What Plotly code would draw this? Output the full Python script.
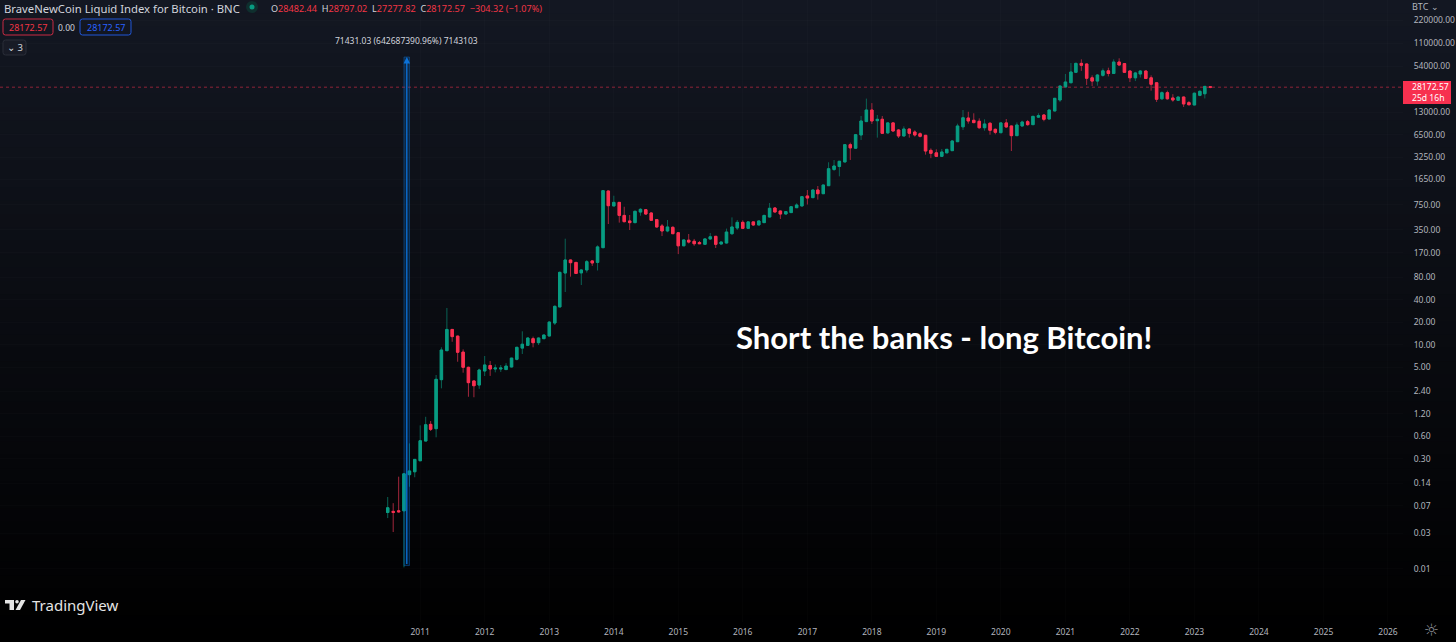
#!/usr/bin/env python3
"""BNC Bitcoin liquid index, monthly candles on a log scale, TradingView look."""
import math

import pandas as pd
import plotly.graph_objects as go

W, H = 1456, 642
PLOT_R, PLOT_B = 1403, 622

UP = "#089c82"
DOWN = "#fb2f50"
UP_WICK = "#0a6355"
DOWN_WICK = "#a3263c"
INK = "#d1d4dc"
AXIS_INK = "#b2b5be"
BLUE = "#0b72d9"
FONT = "Noto Sans"

# monthly bars from 2010-07
opens = [
    0.057, 0.059, 0.060, 0.060, 0.183, 0.200,
    0.281, 0.516, 0.863, 0.755, 3.42, 8.36, 16.1, 13.1, 8.0, 5.01, 3.29, 2.90,
    4.47, 5.3, 4.75, 4.75, 4.67, 5.06, 6.4, 9.05, 9.85, 12.1, 10.7, 12.1,
    13.15, 19.6, 32.2, 91.6, 137, 127, 92, 100.6, 133, 127, 200, 1148,
    724, 809, 541, 456, 433, 600, 645, 583, 475, 391, 335, 375,
    317, 212, 252, 244, 234, 222, 262, 284, 224, 231, 308, 367,
    437, 363, 443, 403, 433, 515, 680, 620, 565, 590, 686, 724,
    985, 935, 1184, 1056, 1352, 2230, 2440, 2810, 4790, 4290, 6455, 9750,
    13950, 10030, 10470, 6880, 9370, 7530, 6260, 7760, 7080, 6700, 6390, 4020,
    3720, 3340, 3720, 3980, 5250, 8300, 10890, 10150, 9850, 8070, 9250, 7690,
    6920, 9370, 8520, 6320, 8520, 9730, 8870, 11180, 11950, 10570, 13530, 18980,
    28330, 32300, 44500, 58700, 57600, 37600, 34000, 40600, 46600, 43000, 61200, 58300,
    46400, 37600, 42300, 46400, 37600, 32300, 19700, 23800, 20200, 18800, 20800, 17500,
    16270, 21900, 23000, 28482.44,
]
highs = [
    0.092, 0.076, 0.172, 0.188, 0.480, 0.293,
    0.837, 1.09, 0.956, 3.95, 9.28, 31.2, 16.3, 13.3, 8.7, 5.1, 3.3, 4.8,
    7.10, 6.08, 5.46, 5.38, 5.7, 6.7, 9.4, 15.2, 12.6, 12.9, 12.6, 13.7,
    20.7, 33.8, 96, 264, 138, 129, 103, 137, 137, 215, 1184, 1160,
    993, 815, 707, 548, 626, 674, 658, 595, 484, 415, 470, 386,
    320, 259, 305, 262, 246, 266, 314, 287, 244, 360, 509, 470,
    465, 452, 445, 465, 553, 793, 700, 626, 620, 724, 786, 985,
    1184, 1207, 1340, 1393, 2783, 2986, 2900, 4860, 5100, 6660, 11590, 19800,
    17250, 11950, 11590, 9640, 9640, 7760, 8430, 7860, 7460, 7000, 6455, 4270,
    4150, 4190, 4190, 5533, 9140, 13950, 13200, 12600, 10780, 10470, 9640, 7860,
    9640, 10570, 8600, 9520, 10030, 10250, 11590, 12600, 12320, 14080, 20200, 29230,
    42300, 59400, 60000, 66500, 58300, 40600, 42300, 50200, 51400, 66500, 68600, 58700,
    46900, 45200, 47860, 46900, 40600, 32600, 24800, 25300, 22700, 21200, 21000, 18400,
    23900, 25600, 29230, 28797.02,
]
lows = [
    0.048, 0.0312, 0.0566, 0.0105, 0.126, 0.169,
    0.281, 0.516, 0.703, 0.579, 2.62, 8.3, 11.0, 5.95, 4.24, 2.02, 1.99, 2.58,
    3.83, 3.84, 4.29, 4.34, 4.61, 5.0, 6.2, 7.55, 9.75, 9.28, 9.96, 12.0,
    13.0, 18.45, 32, 51, 81.9, 89, 63.3, 92.8, 114, 99, 198, 415,
    720, 433, 437, 345, 425, 536, 553, 456, 370, 287, 322, 305,
    164, 210, 228, 212, 224, 222, 254, 198, 222, 228, 296, 345,
    355, 359, 391, 399, 429, 510, 597, 484, 560, 583, 680, 715,
    757, 925, 880, 1045, 1340, 2127, 1805, 2790, 2986, 4240, 5533, 9750,
    9060, 5950, 6660, 6660, 7140, 5880, 6200, 5950, 6150, 5990, 3520, 3160,
    3270, 3270, 3700, 3940, 5200, 7530, 9140, 9280, 7830, 7360, 6510, 6590,
    6860, 8070, 3940, 6260, 8350, 8600, 8785, 10890, 9850, 10470, 13400, 17850,
    28000, 32100, 44000, 46600, 30140, 29200, 29500, 38900, 39300, 42500, 54600, 44000,
    33000, 34000, 38000, 36400, 25300, 17850, 18980, 19200, 18000, 18400, 15300, 16100,
    16200, 21300, 19900, 27277.82,
]
closes = [
    0.066, 0.0572, 0.0584, 0.188, 0.205, 0.293,
    0.521, 0.853, 0.74, 3.46, 8.54, 16.1, 12.9, 7.96, 5.01, 3.12, 2.84, 4.61,
    5.38, 4.75, 4.9, 4.9, 5.2, 6.65, 9.28, 10.2, 12.35, 10.7, 12.35, 13.55,
    20.2, 32.8, 93.5, 137, 126, 90.5, 100.6, 130, 125, 205, 1160, 730,
    809, 541, 446, 433, 614, 653, 565, 465, 379, 335, 379, 308,
    212, 254, 238, 226, 226, 262, 280, 222, 238, 324, 379, 437,
    363, 443, 403, 456, 541, 674, 601, 565, 608, 707, 746, 963,
    925, 1184, 1056, 1381, 2281, 2482, 2870, 4790, 4340, 6520, 9940, 13950,
    9940, 10470, 6800, 9370, 7300, 6260, 7760, 6800, 6455, 6200, 3940, 3670,
    3340, 3820, 4150, 5360, 8520, 10980, 9940, 9450, 8070, 9060, 7460, 7010,
    9370, 8270, 6320, 8785, 9640, 8870, 11470, 11700, 10470, 13950, 19990, 29230,
    33060, 45000, 58700, 55300, 37100, 34000, 41020, 46600, 43000, 61200, 55840, 44500,
    37600, 43700, 46400, 36800, 30800, 19400, 23800, 19700, 18980, 20800, 16800, 16400,
    23400, 24800, 28900, 28172.57,
]
assert len(opens) == len(highs) == len(lows) == len(closes) == 154

price_ticks = [220000, 110000, 54000, 13000, 6500, 3250, 1650, 750, 350, 170, 80, 40,
               20, 10, 5, 2.4, 1.2, 0.6, 0.3, 0.14, 0.07, 0.03, 0.01]
years = list(range(2011, 2027))
measure_low, measure_high = 0.0111, 71442
last_price = 28172.57

months = pd.date_range("2010-07-01", periods=len(opens), freq="MS")


# paper coordinates run over the plot area only
def px(x):
    return x / PLOT_R


def py(y):
    return 1 - y / PLOT_B


def label(fig, x, y, text, size=9, color=INK, anchor="left", family=FONT, **kw):
    fig.add_annotation(x=px(x), y=py(y), xref="paper", yref="paper", text=text, showarrow=False,
                       xanchor=anchor, yanchor="middle", font=dict(family=family, size=size, color=color), **kw)


def rect(fig, x0, y0, x1, y1, **kw):
    fig.add_shape(type="rect", xref="paper", yref="paper", x0=px(x0), x1=px(x1), y0=py(y0), y1=py(y1), **kw)


def round_rect(fig, x0, y0, x1, y1, r=2.5, **kw):
    p = (f"M{px(x0 + r)},{py(y0)} L{px(x1 - r)},{py(y0)} Q{px(x1)},{py(y0)} {px(x1)},{py(y0 + r)} "
         f"L{px(x1)},{py(y1 - r)} Q{px(x1)},{py(y1)} {px(x1 - r)},{py(y1)} "
         f"L{px(x0 + r)},{py(y1)} Q{px(x0)},{py(y1)} {px(x0)},{py(y1 - r)} "
         f"L{px(x0)},{py(y0 + r)} Q{px(x0)},{py(y0)} {px(x0 + r)},{py(y0)} Z")
    fig.add_shape(type="path", xref="paper", yref="paper", path=p, **kw)


fig = go.Figure()

# wicks underneath, bodies on top, so they can take different colours
fig.add_trace(go.Candlestick(
    x=months, open=opens, high=highs, low=lows, close=closes, whiskerwidth=0, hoverinfo="skip",
    increasing=dict(line=dict(color=UP_WICK, width=1), fillcolor=UP_WICK),
    decreasing=dict(line=dict(color=DOWN_WICK, width=1), fillcolor=DOWN_WICK),
))
fig.add_trace(go.Candlestick(
    x=months, open=opens, close=closes, whiskerwidth=0, hoverinfo="skip",
    high=[max(o, c) for o, c in zip(opens, closes)],
    low=[min(o, c) for o, c in zip(opens, closes)],
    increasing=dict(line=dict(color=UP, width=1), fillcolor=UP),
    decreasing=dict(line=dict(color=DOWN, width=1), fillcolor=DOWN),
))

# background fades from the chart colour into black
bands = 48
for i in range(bands):
    k = 1 - i / (bands - 1)
    rect(fig, 0, H * i / bands, W, H * (i + 1) / bands + 1, layer="below", line_width=0,
         fillcolor=f"rgb({round(19 * k)},{round(23 * k)},{round(34 * k)})")

fig.add_shape(type="line", xref="x domain", yref="y", x0=0, x1=1, y0=last_price, y1=last_price,
              line=dict(color="#8f2438", width=1, dash="dot"))

# price range measure
fig.add_shape(type="rect", xref="x", yref="y", x0="2010-10-01", x1="2010-11-01",
              y0=measure_low, y1=measure_high, fillcolor="rgba(11,114,217,0.2)",
              line=dict(color="rgba(11,114,217,0.4)", width=1))
fig.add_annotation(x="2010-10-17", y=math.log10(measure_high), ax="2010-10-17", ay=math.log10(measure_low),
                   xref="x", yref="y", axref="x", ayref="y", text="", showarrow=True,
                   arrowhead=2, arrowsize=1, arrowwidth=1.3, arrowcolor=BLUE)
label(fig, 406, 40, "71431.03 (642687390.96%) 7143103", size=8.5, anchor="center")

# header
label(fig, 1.5, 8.3, "BraveNewCoin Liquid Index for Bitcoin · BNC", size=11.3)
fig.add_shape(type="circle", xref="paper", yref="paper", x0=px(246), x1=px(258), y0=py(13), y1=py(1),
              fillcolor="#0f2f2e", line_width=0)
fig.add_shape(type="circle", xref="paper", yref="paper", x0=px(249.5), x1=px(254.5), y0=py(9.5), y1=py(4.5),
              fillcolor=UP, line_width=0)
ohlc_parts = [("O", "28482.44"), ("H", "28797.02"), ("L", "27277.82"), ("C", "28172.57")]
ohlc_text = "  ".join(f"{a}<span style='color:#f23645'>{b}</span>" for a, b in ohlc_parts)
label(fig, 268.5, 8.5, ohlc_text + "<span style='color:#f23645'>  −304.32 (−1.07%)</span>", size=9.1)
round_rect(fig, 3, 19, 53, 35, line=dict(color="#c92b44", width=1))
label(fig, 28, 27, "28172.57", size=9, color="#f23645", anchor="center")
label(fig, 66.5, 27, "0.00", size=8.5, anchor="center")
round_rect(fig, 80, 19, 131, 35, line=dict(color="#2157d8", width=1))
label(fig, 105.5, 27, "28172.57", size=9, color="#2962ff", anchor="center")
round_rect(fig, 3, 40, 26, 55, fillcolor="#181b26", line=dict(color="#2a2e39", width=1))
label(fig, 14.5, 47.5, "⌄ 3", size=9.5, anchor="center")

# the headline
label(fig, 944, 337, "<b>Short the banks - long Bitcoin!</b>", size=31, color="#ffffff", anchor="center", family="Lato")

# price badge and axis title
rect(fig, 1403, 81, 1451, 104, fillcolor="#f7304f", line_width=0)
label(fig, 1410, 92.5, "28172.57<br>25d 16h", size=8.6, color="#ffffff", align="left")
label(fig, 1410, 6, "BTC ⌄", size=9, color=AXIS_INK)
label(fig, 1431, 630, "☼", size=17, color="#8a8d96", anchor="center", family="DejaVu Sans")

# TradingView mark
logo = "#e4e4e4"
for pts in [[(5, 600), (14, 600), (14, 610), (9.5, 610), (9.5, 603.5), (5, 603.5)],
            [(21, 600), (25.5, 600), (20, 610), (15.5, 610)]]:
    path = "M" + " L".join(f"{px(a)},{py(b)}" for a, b in pts) + " Z"
    fig.add_shape(type="path", xref="paper", yref="paper", path=path, line_width=0, fillcolor=logo)
fig.add_shape(type="circle", xref="paper", yref="paper", x0=px(15.2), x1=px(18.8), y0=py(603.6), y1=py(600),
              fillcolor=logo, line_width=0)
label(fig, 29.5, 605, "TradingView", size=15, color=logo)

fig.update_layout(
    width=W, height=H, showlegend=False, paper_bgcolor="#000000", plot_bgcolor="rgba(0,0,0,0)",
    margin=dict(l=0, r=W - PLOT_R, t=0, b=H - PLOT_B),
    font=dict(family=FONT, size=8.5, color=AXIS_INK),
)
fig.update_xaxes(
    type="date", range=["2004-06-27", "2026-03-27"], rangeslider_visible=False,
    tickvals=[f"{y}-01-01" for y in years], ticktext=[str(y) for y in years],
    showline=False, zeroline=False, ticks="outside", ticklen=2, tickcolor="rgba(0,0,0,0)",
    showgrid=True, gridcolor="rgba(240,243,250,0.015)",
)
fig.update_yaxes(
    type="log", side="right", range=[-2.71, 5.617],
    tickvals=price_ticks, ticktext=[f"{v:.2f}" for v in price_ticks],
    showline=False, zeroline=False, ticks="outside", ticklen=8, tickcolor="rgba(0,0,0,0)",
    showgrid=True, gridcolor="rgba(240,243,250,0.015)",
)

fig.write_html("out.html", config=dict(displayModeBar=False),
               post_script="document.body.style.margin='0';document.body.style.background='#000';")
